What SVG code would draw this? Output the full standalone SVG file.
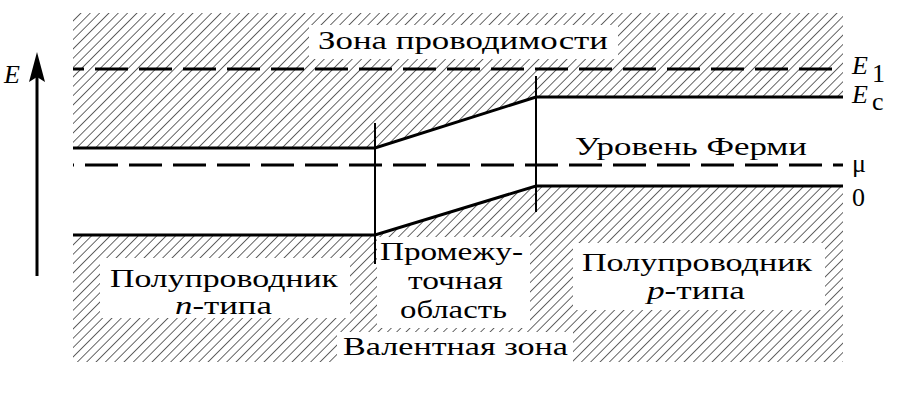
<svg xmlns="http://www.w3.org/2000/svg" width="923" height="413" viewBox="0 0 923 413">
<style>
text{font-size:26px;fill:#000}
.it{font-style:italic}
.solid{fill:none;stroke:#000;stroke-width:3}
.dash{fill:none;stroke:#000;stroke-width:3;stroke-dasharray:33 11}
.vert{fill:none;stroke:#000;stroke-width:2}
.box{fill:#fff}
</style>
<defs>
<pattern id="hatch" patternUnits="userSpaceOnUse" width="6.6" height="10" patternTransform="rotate(45)">
<line x1="0" y1="-1" x2="0" y2="11" stroke="#000" stroke-width="1.2"/>
</pattern>
</defs>
<rect width="923" height="413" fill="#fff"/>
<g font-family="'Liberation Serif', 'Times New Roman', Times, 'DejaVu Serif', serif">
<g id="conduction-band">
<path d="M73 13 H843 V97 H536 L375 148 H73 Z" fill="url(#hatch)"/>
<rect class="box" x="309" y="25" width="309" height="34"/>
<text x="318" y="49" textLength="290" lengthAdjust="spacingAndGlyphs">Зона проводимости</text>
</g>
<g id="valence-band">
<path d="M73 235 H375 L536 186 H843 V362 H73 Z" fill="url(#hatch)"/>
<rect class="box" x="100" y="258" width="250" height="60"/>
<text x="110" y="287" textLength="228" lengthAdjust="spacingAndGlyphs">Полупроводник</text>
<text x="175" y="314" textLength="97" lengthAdjust="spacingAndGlyphs"><tspan class="it">n</tspan>-типа</text>
<rect class="box" x="377" y="237" width="153" height="91"/>
<text x="380" y="260" textLength="143" lengthAdjust="spacingAndGlyphs">Промежу-</text>
<text x="408" y="289" textLength="95" lengthAdjust="spacingAndGlyphs">точная</text>
<text x="400" y="318" textLength="107" lengthAdjust="spacingAndGlyphs">область</text>
<rect class="box" x="573" y="243" width="252" height="67"/>
<text x="582" y="271" textLength="230" lengthAdjust="spacingAndGlyphs">Полупроводник</text>
<text x="647" y="299" textLength="98" lengthAdjust="spacingAndGlyphs"><tspan class="it">p</tspan>-типа</text>
<rect class="box" x="337" y="332" width="236" height="31"/>
<text x="343" y="355" textLength="225" lengthAdjust="spacingAndGlyphs">Валентная зона</text>
</g>
<g id="connectors">
<path class="solid" d="M73 148 H375 L536 97 H843"/>
<path class="solid" d="M73 235 H375 L536 186 H843"/>
<path class="dash" d="M73 69 H843" stroke-dashoffset="22"/>
<path class="dash" d="M73 165 H843" stroke-dashoffset="-12"/>
<path class="vert" d="M375 123 V264"/>
<path class="vert" d="M536 76 V212"/>
<path d="M37 276 V75" stroke="#000" stroke-width="3"/>
<path d="M37 52 L45 82 L37 77 L29 82 Z" fill="#000"/>
</g>
<g id="level-labels" font-size="28">
<text x="4" y="83" class="it" font-size="28">E</text>
<text x="852" y="74" class="it" font-size="28">E</text><text x="872" y="82" font-size="20">1</text>
<text x="852" y="103" class="it" font-size="28">E</text><text x="872" y="110" font-size="20">c</text>
<text x="575" y="155" textLength="232" lengthAdjust="spacingAndGlyphs" font-size="27">Уровень Ферми</text>
<text x="852" y="172" font-size="27">μ</text>
<text x="852" y="206" font-size="27">0</text>
</g>
</g>
</svg>
